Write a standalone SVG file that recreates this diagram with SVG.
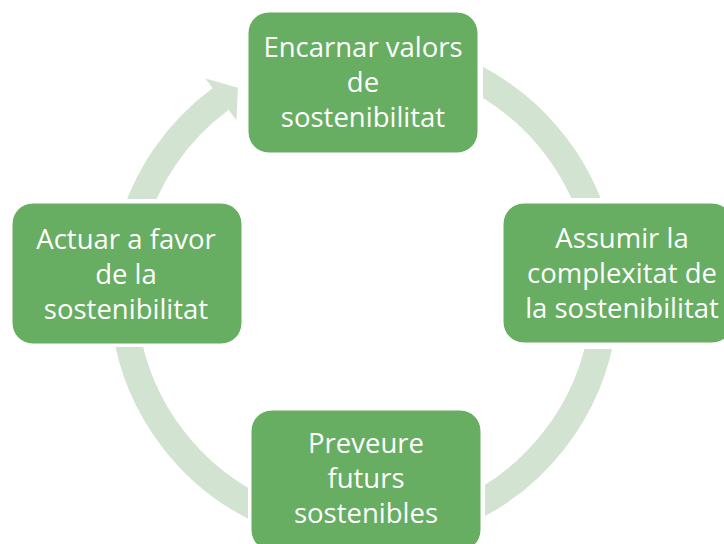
<svg xmlns="http://www.w3.org/2000/svg" width="724" height="544" viewBox="0 0 724 544">
<style>
.box{fill:#67AD62;stroke:#ffffff;stroke-width:1}
.lbl{font-family:"Open Sans",Lato,"Liberation Sans",sans-serif;font-size:27.5px;fill:#ffffff;text-anchor:middle}
.arc{fill:none;stroke:#D2E3D1;stroke-width:27}
</style>
<defs>
<mask id="cut" maskUnits="userSpaceOnUse" x="0" y="0" width="724" height="544">
<rect x="0" y="0" width="724" height="544" fill="#fff"/>
<rect x="240" y="0" width="243" height="160" fill="#000"/>
<rect x="498" y="198" width="226" height="151" fill="#000"/>
<rect x="248" y="400" width="237" height="144" fill="#000"/>
<rect x="0" y="199" width="246" height="148" fill="#000"/>
</mask>
</defs>
<g id="connectors" mask="url(#cut)">
<path class="arc" d="M465.8,73.6 A241,241 0 0 1 596.8,229.6"/>
<path class="arc" d="M602.7,325.5 A241,241 0 0 1 454.3,515.5"/>
<path class="arc" d="M273.7,515.5 A241,241 0 0 1 125.3,325.5"/>
<path class="arc" d="M131.2,229.6 A241,241 0 0 1 220.8,98.9"/>
<polygon points="205.4,78.5 237.9,87.8 236.4,120.2" fill="#D2E3D1"/>
</g>
<g id="node-top">
<rect class="box" x="248" y="12" width="230" height="141" rx="21"/>
<text class="lbl" x="363" y="57">Encarnar valors</text>
<text class="lbl" x="363" y="92">de</text>
<text class="lbl" x="363" y="127">sostenibilitat</text>
</g>
<g id="node-right">
<rect class="box" x="503" y="203" width="230" height="140" rx="21"/>
<text class="lbl" x="622" y="248">Assumir la</text>
<text class="lbl" x="622" y="283">complexitat de</text>
<text class="lbl" x="622" y="318">la sostenibilitat</text>
</g>
<g id="node-bottom">
<rect class="box" x="251" y="410" width="230" height="141" rx="21"/>
<text class="lbl" x="366" y="453">Preveure</text>
<text class="lbl" x="366" y="488">futurs</text>
<text class="lbl" x="366" y="523">sostenibles</text>
</g>
<g id="node-left">
<rect class="box" x="12" y="203" width="230" height="141" rx="21"/>
<text class="lbl" x="126" y="249">Actuar a favor</text>
<text class="lbl" x="126" y="284">de la</text>
<text class="lbl" x="126" y="319">sostenibilitat</text>
</g>
</svg>
